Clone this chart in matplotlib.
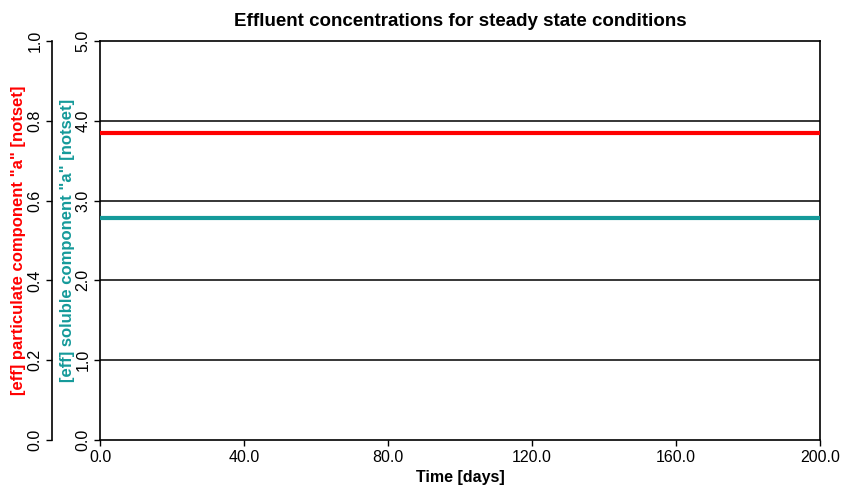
import matplotlib
matplotlib.use('Agg')
import matplotlib.pyplot as plt

plt.rcParams['font.family'] = ['Liberation Sans', 'DejaVu Sans']

time_days = [0.0, 200.0]
soluble_a = [2.78, 2.78]
particulate_a = [0.77, 0.77]
x_ticks = [0, 40, 80, 120, 160, 200]
sol_ticks = [0, 1, 2, 3, 4, 5]
part_ticks = [0, 0.2, 0.4, 0.6, 0.8, 1.0]

red = '#ff0000'
teal = '#159a9a'

fig = plt.figure(figsize=(8.41, 4.88), dpi=100)
ax = fig.add_axes([100/841, 48/488, 720/841, 399/488])

# soluble on the inner axis
ax.plot(time_days, soluble_a, color=teal, lw=3, solid_capstyle='butt', zorder=3)
ax.set_xlim(0, 200)
ax.set_ylim(0, 5)
for g in [1, 2, 3, 4]:
    ax.axhline(g, color='black', lw=1.1, zorder=2)
ax.set_xticks(x_ticks)
ax.set_xticklabels(['%.1f' % v for v in x_ticks], fontsize=11.5)
ax.set_yticks(sol_ticks)
ax.set_yticklabels(['%.1f' % v for v in sol_ticks], rotation=90, va='center', fontsize=11.5)
ax.tick_params(axis='x', length=4, width=1, color='black', pad=3)
ax.tick_params(axis='y', length=4, width=1, color='black', pad=3)
for s in ax.spines.values():
    s.set_linewidth(1.2)
ax.set_xlabel('Time [days]', fontweight='bold', fontsize=11.5, labelpad=4)
ax.set_ylabel('[eff] soluble component "a" [notset]', color=teal,
              fontweight='bold', fontsize=12, labelpad=0)

# particulate on the outer axis
ax2 = ax.twinx()
ax2.plot(time_days, particulate_a, color=red, lw=3, solid_capstyle='butt', zorder=3)
ax2.set_ylim(0, 1.0)
ax2.yaxis.set_label_position('left')
ax2.yaxis.set_ticks_position('left')
ax2.spines['left'].set_position(('axes', -48/720))
ax2.spines['right'].set_visible(False)
ax2.spines['top'].set_visible(False)
ax2.spines['bottom'].set_visible(False)
ax2.spines['left'].set_linewidth(1.2)
ax2.set_yticks(part_ticks)
ax2.set_yticklabels(['%.1f' % v for v in part_ticks], rotation=90, va='center', fontsize=11.5)
ax2.tick_params(axis='y', length=4, width=1, pad=3)
ax2.set_ylabel('[eff] particulate component "a" [notset]', color=red,
               fontweight='bold', fontsize=12, labelpad=1)

ax.set_title('Effluent concentrations for steady state conditions',
             fontweight='bold', fontsize=13.5, pad=11)

fig.savefig('out.png', dpi=100)
